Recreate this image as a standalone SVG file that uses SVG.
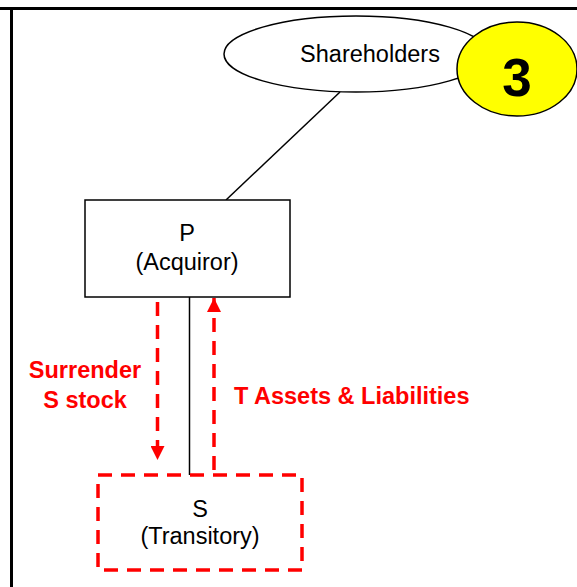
<svg xmlns="http://www.w3.org/2000/svg" width="577" height="587" viewBox="0 0 577 587">
<defs>
<style>
.t{font-family:"Liberation Sans",Arial,sans-serif;font-size:23.5px;fill:#000;text-anchor:middle}
.r{font-family:"Liberation Sans",Arial,sans-serif;font-size:23.5px;font-weight:bold;fill:#ff0000}
.dash{stroke:#ff0000;stroke-width:3.5;stroke-dasharray:14,9;fill:none}
</style>
<marker id="ah" viewBox="0 0 10 10" refX="10" refY="5" markerWidth="4" markerHeight="4" markerUnits="strokeWidth" orient="auto">
<path d="M0,0 L10,5 L0,10 Z" fill="#ff0000"/>
</marker>
</defs>
<rect width="577" height="587" fill="#fff"/>
<g id="frame" stroke="#000" stroke-width="3">
<line x1="0" y1="8.5" x2="577" y2="8.5"/>
<line x1="11.5" y1="8.5" x2="11.5" y2="587"/>
</g>
<g id="connectors">
<line x1="340" y1="92" x2="226" y2="200" stroke="#000" stroke-width="1.5"/>
<line x1="189.5" y1="297" x2="189.5" y2="475" stroke="#000" stroke-width="1.5"/>
<line class="dash" x1="157.5" y1="302" x2="157.5" y2="460" marker-end="url(#ah)"/>
<line class="dash" x1="214" y1="470" x2="214" y2="298" marker-end="url(#ah)"/>
<text class="r" x="85" y="378" text-anchor="middle">Surrender</text>
<text class="r" x="85" y="408" text-anchor="middle">S stock</text>
<text class="r" x="234" y="404">T Assets &amp; Liabilities</text>
</g>
<g id="shareholders">
<ellipse cx="356" cy="54" rx="132" ry="38" fill="#fff" stroke="#000" stroke-width="1.5"/>
<text class="t" x="370" y="62">Shareholders</text>
</g>
<g id="badge">
<ellipse cx="517" cy="69" rx="60" ry="47" fill="#ffff00" stroke="#000" stroke-width="1.5"/>
<text x="517" y="96" font-family="'Liberation Sans',Arial,sans-serif" font-size="53" font-weight="bold" text-anchor="middle">3</text>
</g>
<g id="P">
<rect x="85" y="200" width="205" height="97" fill="#fff" stroke="#000" stroke-width="1.5"/>
<text class="t" x="187" y="241">P</text>
<text class="t" x="187" y="270">(Acquiror)</text>
</g>
<g id="S">
<rect x="98" y="475" width="204" height="95" fill="#fff" class="dash"/>
<text class="t" x="200" y="517">S</text>
<text class="t" x="200" y="544">(Transitory)</text>
</g>
</svg>
